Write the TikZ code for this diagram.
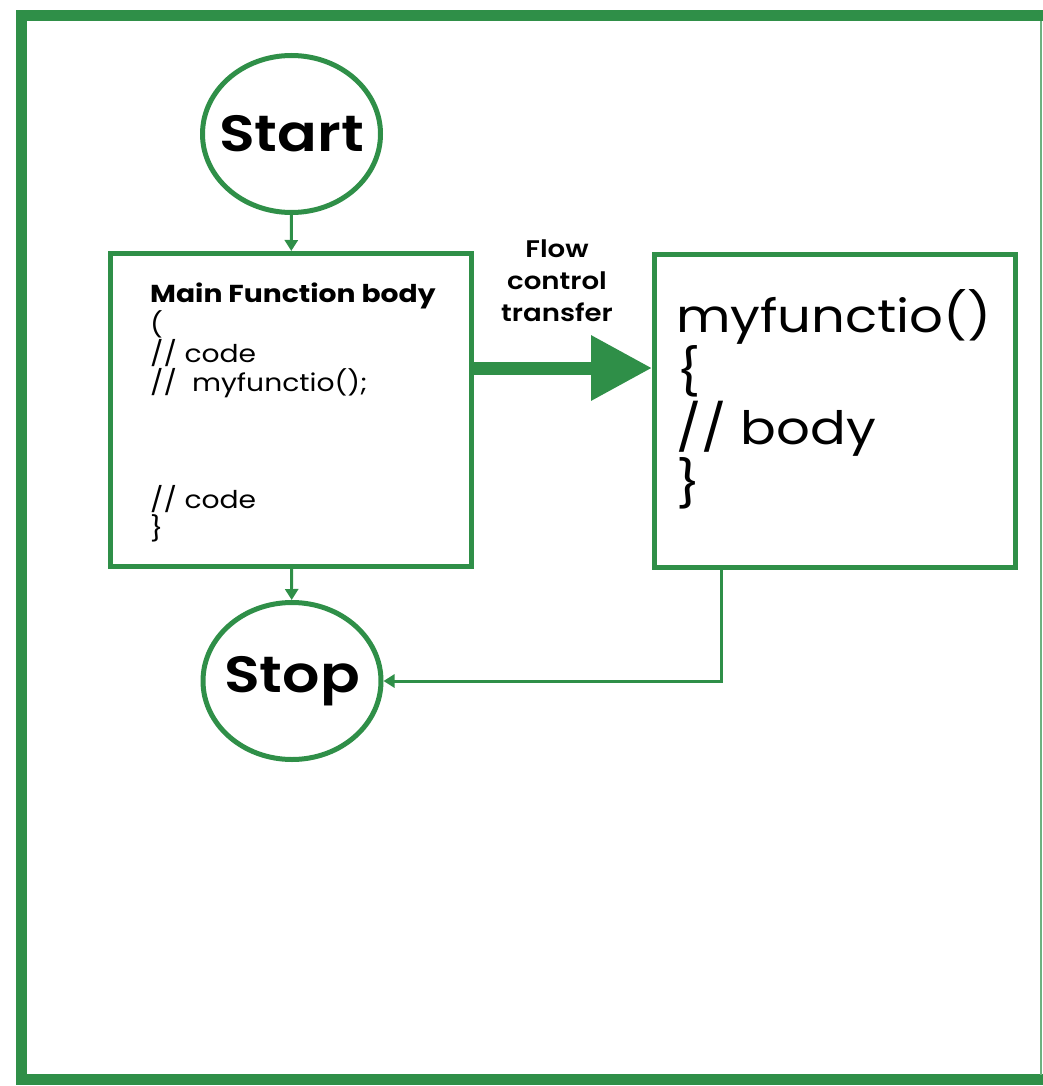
\documentclass[tikz,border=0pt]{standalone}
\usepackage{fontspec}
\setmainfont{Poppins}[FakeStretch=1.15]
\newfontfamily\semib{Poppins SemiBold}[FakeStretch=1.15]
\usetikzlibrary{arrows.meta,shapes.geometric}
\definecolor{flowgreen}{RGB}{47,143,72}
\begin{document}
\begin{tikzpicture}[x=1pt,y=-1pt,
  terminal/.style={draw=flowgreen, line width=5pt, ellipse, minimum width=178pt,
    minimum height=157pt, inner sep=0pt, font=\semib\fontsize{51}{60}\selectfont},
  block/.style={draw=flowgreen, line width=5pt, minimum width=361pt,
    minimum height=313pt, inner sep=0pt},
  link/.style={draw=flowgreen, line width=3pt, -{Triangle[length=11pt,width=13pt]}},
  transfer/.style={draw=flowgreen, line width=13pt, -{Triangle[length=61pt,width=62pt]}}]

\useasboundingbox (0,0) rectangle (1043,1086);

% outer frame
\draw[flowgreen, line width=11pt] (1050,15.5) -- (21,15.5) -- (21,1079.5) -- (1050,1079.5);
\draw[flowgreen!70, line width=2pt] (1041,21) -- (1041,1075);

% nodes (terminal text is boxed at zero width so the ellipse keeps its size)
\node[terminal] (start) at (291.5,134) {\makebox[0pt]{Start}};
\node[block] (mainbox) at (291,410) {};
\node[block] (funcbox) at (835,411) {};
\node[terminal] (stop) at (292,681) {\makebox[0pt]{Stop}};

\node[anchor=north west, inner sep=0pt, align=left, font=\fontsize{24.5}{29}\selectfont]
  (maintext) at (150,283) {\textbf{Main Function body}\\ (\\ // code\\ //~~myfunctio();\\[87pt] // code\\ \}};

\node[anchor=north west, inner sep=0pt, align=left, font=\fontsize{46}{56}\selectfont]
  (functext) at (676,289) {myfunctio()\\ \{\\ // body\\ \}};

\node[align=center, inner sep=0pt, font=\semib\fontsize{24}{32}\selectfont]
  (flowlabel) at (557,281) {Flow\\ control\\ transfer};

% connectors
\coordinate (flowy) at (0,368);
\coordinate (retx) at (721,0);
\draw[link] (start) -- (mainbox);
\draw[link] (mainbox) -- (stop);
\draw[transfer] (mainbox.east |- flowy) -- (funcbox.west |- flowy);
\draw[link] (funcbox.south -| retx) |- (stop.east);
\end{tikzpicture}
\end{document}
